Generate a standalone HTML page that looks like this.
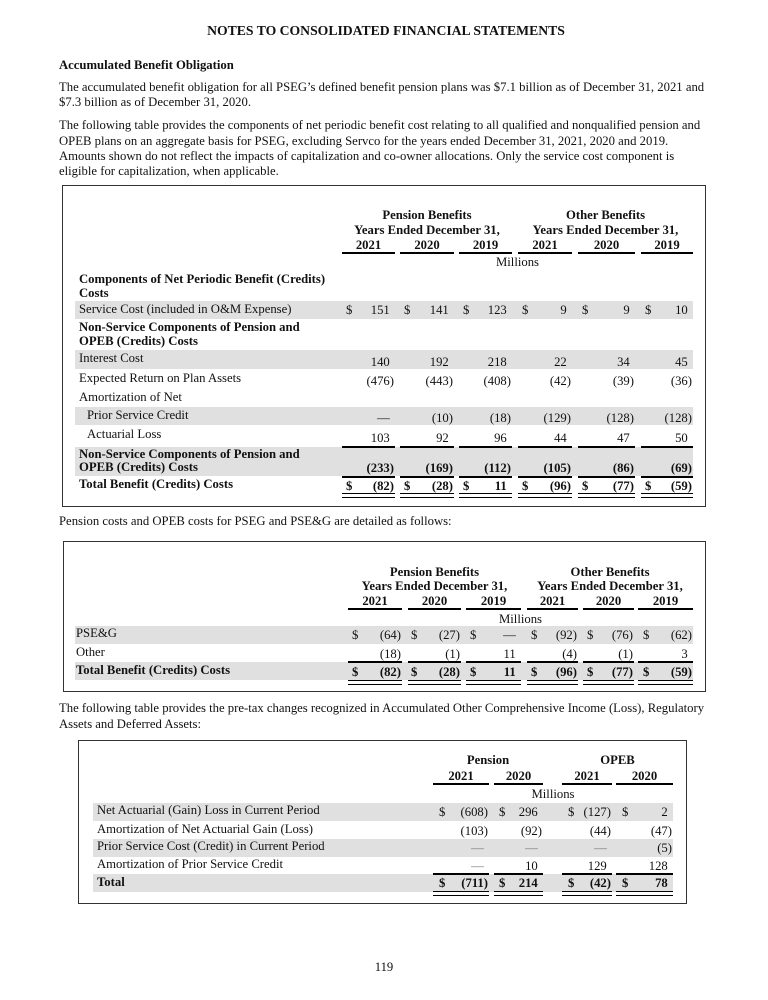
<!DOCTYPE html>
<html>
<head>
<meta charset="utf-8">
<style>
html,body{margin:0;padding:0;}
body{width:768px;height:1000px;position:relative;overflow:hidden;background:#fff;color:#111;font-family:"Liberation Serif","Times New Roman",serif;}
.t{position:absolute;white-space:nowrap;font-size:12.7px;line-height:16px;}
.t i{font-style:normal;visibility:hidden;}
.b{font-weight:bold;}
.c{text-align:center;}
.sh{position:absolute;background:#e0e0e0;}
.ul{position:absolute;height:1.5px;background:#000;}
.dul{position:absolute;height:5px;border-top:1.5px solid #000;border-bottom:1.5px solid #000;box-sizing:border-box;}
.box{position:absolute;border:1.5px solid #333;box-sizing:border-box;}
.dash{color:#777;}
</style>
</head>
<body>

<!-- Title & text -->
<div class="t b c" style="left:0;width:772px;top:23px;font-size:13.7px;">NOTES TO CONSOLIDATED FINANCIAL STATEMENTS</div>
<div class="t b" style="left:59px;top:57px;">Accumulated Benefit Obligation</div>
<div class="t" style="left:59px;top:79px;">The accumulated benefit obligation for all PSEG’s defined benefit pension plans was $7.1 billion as of December 31, 2021 and</div>
<div class="t" style="left:59px;top:94px;">$7.3 billion as of December 31, 2020.</div>
<div class="t" style="left:59px;top:117px;">The following table provides the components of net periodic benefit cost relating to all qualified and nonqualified pension and</div>
<div class="t" style="left:59px;top:133px;">OPEB plans on an aggregate basis for PSEG, excluding Servco for the years ended December 31, 2021, 2020 and 2019.</div>
<div class="t" style="left:59px;top:148px;">Amounts shown do not reflect the impacts of capitalization and co-owner allocations. Only the service cost component is</div>
<div class="t" style="left:59px;top:163px;">eligible for capitalization, when applicable.</div>

<!-- ================= TABLE 1 ================= -->
<div class="box" style="left:62px;top:185px;width:644px;height:322px;"></div>

<div class="t b c" style="left:342px;width:170px;top:207px;">Pension Benefits</div>
<div class="t b c" style="left:342px;width:170px;top:222px;">Years Ended December 31,</div>
<div class="t b c" style="left:518px;width:175px;top:207px;">Other Benefits</div>
<div class="t b c" style="left:518px;width:175px;top:222px;">Years Ended December 31,</div>

<div class="t b c" style="left:342px;width:53px;top:237px;">2021</div>
<div class="t b c" style="left:400px;width:54px;top:237px;">2020</div>
<div class="t b c" style="left:459px;width:53px;top:237px;">2019</div>
<div class="t b c" style="left:518px;width:54px;top:237px;">2021</div>
<div class="t b c" style="left:578px;width:57px;top:237px;">2020</div>
<div class="t b c" style="left:641px;width:52px;top:237px;">2019</div>

<div class="ul" style="left:342px;width:53px;top:252px;"></div>
<div class="ul" style="left:400px;width:54px;top:252px;"></div>
<div class="ul" style="left:459px;width:53px;top:252px;"></div>
<div class="ul" style="left:518px;width:54px;top:252px;"></div>
<div class="ul" style="left:578px;width:57px;top:252px;"></div>
<div class="ul" style="left:641px;width:52px;top:252px;"></div>

<div class="t c" style="left:342px;width:351px;top:254px;">Millions</div>

<div class="t b" style="left:79px;top:271px;">Components of Net Periodic Benefit (Credits)</div>
<div class="t b" style="left:79px;top:285px;">Costs</div>

<!-- Service cost -->
<div class="sh" style="left:75px;width:618px;top:301px;height:18px;"></div>
<div class="t" style="left:79px;top:301px;">Service Cost (included in O&amp;M Expense)</div>
<div class="t" style="left:346px;top:302px;">$</div>
<div class="t" style="right:374px;top:302px;">151<i>)</i></div>
<div class="t" style="left:404px;top:302px;">$</div>
<div class="t" style="right:315px;top:302px;">141<i>)</i></div>
<div class="t" style="left:463px;top:302px;">$</div>
<div class="t" style="right:257px;top:302px;">123<i>)</i></div>
<div class="t" style="left:522px;top:302px;">$</div>
<div class="t" style="right:197px;top:302px;">9<i>)</i></div>
<div class="t" style="left:582px;top:302px;">$</div>
<div class="t" style="right:134px;top:302px;">9<i>)</i></div>
<div class="t" style="left:645px;top:302px;">$</div>
<div class="t" style="right:76px;top:302px;">10<i>)</i></div>

<div class="t b" style="left:79px;top:319px;">Non-Service Components of Pension and</div>
<div class="t b" style="left:79px;top:333px;">OPEB (Credits) Costs</div>

<!-- Interest -->
<div class="sh" style="left:75px;width:618px;top:350px;height:19px;"></div>
<div class="t" style="left:79px;top:350px;">Interest Cost</div>
<div class="t" style="right:374px;top:354px;">140<i>)</i></div>
<div class="t" style="right:315px;top:354px;">192<i>)</i></div>
<div class="t" style="right:257px;top:354px;">218<i>)</i></div>
<div class="t" style="right:197px;top:354px;">22<i>)</i></div>
<div class="t" style="right:134px;top:354px;">34<i>)</i></div>
<div class="t" style="right:76px;top:354px;">45<i>)</i></div>

<!-- Expected -->
<div class="t" style="left:79px;top:370px;">Expected Return on Plan Assets</div>
<div class="t" style="right:374px;top:373px;">(476)</div>
<div class="t" style="right:315px;top:373px;">(443)</div>
<div class="t" style="right:257px;top:373px;">(408)</div>
<div class="t" style="right:197px;top:373px;">(42)</div>
<div class="t" style="right:134px;top:373px;">(39)</div>
<div class="t" style="right:76px;top:373px;">(36)</div>

<div class="t" style="left:79px;top:389px;">Amortization of Net</div>

<!-- Prior service credit -->
<div class="sh" style="left:75px;width:618px;top:407px;height:18px;"></div>
<div class="t" style="left:87px;top:407px;">Prior Service Credit</div>
<div class="t" style="right:374px;top:410px;">—<i>)</i></div>
<div class="t" style="right:315px;top:410px;">(10)</div>
<div class="t" style="right:257px;top:410px;">(18)</div>
<div class="t" style="right:197px;top:410px;">(129)</div>
<div class="t" style="right:134px;top:410px;">(128)</div>
<div class="t" style="right:76px;top:410px;">(128)</div>

<!-- Actuarial -->
<div class="t" style="left:87px;top:426px;">Actuarial Loss</div>
<div class="t" style="right:374px;top:430px;">103<i>)</i></div>
<div class="t" style="right:315px;top:430px;">92<i>)</i></div>
<div class="t" style="right:257px;top:430px;">96<i>)</i></div>
<div class="t" style="right:197px;top:430px;">44<i>)</i></div>
<div class="t" style="right:134px;top:430px;">47<i>)</i></div>
<div class="t" style="right:76px;top:430px;">50<i>)</i></div>

<!-- Non-service subtotal -->
<div class="sh" style="left:75px;width:618px;top:447px;height:29px;"></div>
<div class="ul" style="left:342px;width:53px;top:446px;"></div>
<div class="ul" style="left:400px;width:54px;top:446px;"></div>
<div class="ul" style="left:459px;width:53px;top:446px;"></div>
<div class="ul" style="left:518px;width:54px;top:446px;"></div>
<div class="ul" style="left:578px;width:57px;top:446px;"></div>
<div class="ul" style="left:641px;width:52px;top:446px;"></div>
<div class="t b" style="left:79px;top:446px;">Non-Service Components of Pension and</div>
<div class="t b" style="left:79px;top:459px;">OPEB (Credits) Costs</div>
<div class="t b" style="right:374px;top:460px;">(233)</div>
<div class="t b" style="right:315px;top:460px;">(169)</div>
<div class="t b" style="right:257px;top:460px;">(112)</div>
<div class="t b" style="right:197px;top:460px;">(105)</div>
<div class="t b" style="right:134px;top:460px;">(86)</div>
<div class="t b" style="right:76px;top:460px;">(69)</div>
<div class="ul" style="left:342px;width:53px;top:476px;"></div>
<div class="ul" style="left:400px;width:54px;top:476px;"></div>
<div class="ul" style="left:459px;width:53px;top:476px;"></div>
<div class="ul" style="left:518px;width:54px;top:476px;"></div>
<div class="ul" style="left:578px;width:57px;top:476px;"></div>
<div class="ul" style="left:641px;width:52px;top:476px;"></div>

<!-- Total -->
<div class="t b" style="left:79px;top:476px;">Total Benefit (Credits) Costs</div>
<div class="t b" style="left:346px;top:478px;">$</div>
<div class="t b" style="right:374px;top:478px;">(82)</div>
<div class="t b" style="left:404px;top:478px;">$</div>
<div class="t b" style="right:315px;top:478px;">(28)</div>
<div class="t b" style="left:463px;top:478px;">$</div>
<div class="t b" style="right:257px;top:478px;">11<i>)</i></div>
<div class="t b" style="left:522px;top:478px;">$</div>
<div class="t b" style="right:197px;top:478px;">(96)</div>
<div class="t b" style="left:582px;top:478px;">$</div>
<div class="t b" style="right:134px;top:478px;">(77)</div>
<div class="t b" style="left:645px;top:478px;">$</div>
<div class="t b" style="right:76px;top:478px;">(59)</div>
<div class="dul" style="left:342px;width:53px;top:493px;"></div>
<div class="dul" style="left:400px;width:54px;top:493px;"></div>
<div class="dul" style="left:459px;width:53px;top:493px;"></div>
<div class="dul" style="left:518px;width:54px;top:493px;"></div>
<div class="dul" style="left:578px;width:57px;top:493px;"></div>
<div class="dul" style="left:641px;width:52px;top:493px;"></div>

<!-- ================= Between ================= -->
<div class="t" style="left:59px;top:513px;">Pension costs and OPEB costs for PSEG and PSE&amp;G are detailed as follows:</div>

<!-- ================= TABLE 2 ================= -->
<div class="box" style="left:63px;top:541px;width:643px;height:151px;"></div>

<div class="t b c" style="left:348px;width:173px;top:564px;">Pension Benefits</div>
<div class="t b c" style="left:348px;width:173px;top:578px;">Years Ended December 31,</div>
<div class="t b c" style="left:527px;width:166px;top:564px;">Other Benefits</div>
<div class="t b c" style="left:527px;width:166px;top:578px;">Years Ended December 31,</div>

<div class="t b c" style="left:348px;width:54px;top:593px;">2021</div>
<div class="t b c" style="left:408px;width:53px;top:593px;">2020</div>
<div class="t b c" style="left:466px;width:55px;top:593px;">2019</div>
<div class="t b c" style="left:527px;width:51px;top:593px;">2021</div>
<div class="t b c" style="left:583px;width:51px;top:593px;">2020</div>
<div class="t b c" style="left:638px;width:55px;top:593px;">2019</div>

<div class="ul" style="left:348px;width:54px;top:608px;"></div>
<div class="ul" style="left:408px;width:53px;top:608px;"></div>
<div class="ul" style="left:466px;width:55px;top:608px;"></div>
<div class="ul" style="left:527px;width:51px;top:608px;"></div>
<div class="ul" style="left:583px;width:51px;top:608px;"></div>
<div class="ul" style="left:638px;width:55px;top:608px;"></div>

<div class="t c" style="left:348px;width:345px;top:611px;">Millions</div>

<!-- PSE&G -->
<div class="sh" style="left:75px;width:618px;top:626px;height:18px;"></div>
<div class="t" style="left:76px;top:625px;">PSE&amp;G</div>
<div class="t" style="left:352px;top:627px;">$</div>
<div class="t" style="right:367px;top:627px;">(64)</div>
<div class="t" style="left:411px;top:627px;">$</div>
<div class="t" style="right:308px;top:627px;">(27)</div>
<div class="t" style="left:470px;top:627px;">$</div>
<div class="t" style="right:248px;top:627px;">—<i>)</i></div>
<div class="t" style="left:531px;top:627px;">$</div>
<div class="t" style="right:191px;top:627px;">(92)</div>
<div class="t" style="left:587px;top:627px;">$</div>
<div class="t" style="right:135px;top:627px;">(76)</div>
<div class="t" style="left:643px;top:627px;">$</div>
<div class="t" style="right:76px;top:627px;">(62)</div>

<!-- Other -->
<div class="t" style="left:76px;top:644px;">Other</div>
<div class="t" style="right:367px;top:646px;">(18)</div>
<div class="t" style="right:308px;top:646px;">(1)</div>
<div class="t" style="right:248px;top:646px;">11<i>)</i></div>
<div class="t" style="right:191px;top:646px;">(4)</div>
<div class="t" style="right:135px;top:646px;">(1)</div>
<div class="t" style="right:76px;top:646px;">3<i>)</i></div>

<!-- Total -->
<div class="sh" style="left:75px;width:618px;top:662px;height:18px;"></div>
<div class="ul" style="left:348px;width:54px;top:661px;"></div>
<div class="ul" style="left:408px;width:53px;top:661px;"></div>
<div class="ul" style="left:466px;width:55px;top:661px;"></div>
<div class="ul" style="left:527px;width:51px;top:661px;"></div>
<div class="ul" style="left:583px;width:51px;top:661px;"></div>
<div class="ul" style="left:638px;width:55px;top:661px;"></div>
<div class="t b" style="left:76px;top:662px;">Total Benefit (Credits) Costs</div>
<div class="t b" style="left:352px;top:664px;">$</div>
<div class="t b" style="right:367px;top:664px;">(82)</div>
<div class="t b" style="left:411px;top:664px;">$</div>
<div class="t b" style="right:308px;top:664px;">(28)</div>
<div class="t b" style="left:470px;top:664px;">$</div>
<div class="t b" style="right:248px;top:664px;">11<i>)</i></div>
<div class="t b" style="left:531px;top:664px;">$</div>
<div class="t b" style="right:191px;top:664px;">(96)</div>
<div class="t b" style="left:587px;top:664px;">$</div>
<div class="t b" style="right:135px;top:664px;">(77)</div>
<div class="t b" style="left:643px;top:664px;">$</div>
<div class="t b" style="right:76px;top:664px;">(59)</div>
<div class="dul" style="left:348px;width:54px;top:680px;"></div>
<div class="dul" style="left:408px;width:53px;top:680px;"></div>
<div class="dul" style="left:466px;width:55px;top:680px;"></div>
<div class="dul" style="left:527px;width:51px;top:680px;"></div>
<div class="dul" style="left:583px;width:51px;top:680px;"></div>
<div class="dul" style="left:638px;width:55px;top:680px;"></div>

<!-- ================= Between ================= -->
<div class="t" style="left:59px;top:700px;">The following table provides the pre-tax changes recognized in Accumulated Other Comprehensive Income (Loss), Regulatory</div>
<div class="t" style="left:59px;top:716px;">Assets and Deferred Assets:</div>

<!-- ================= TABLE 3 ================= -->
<div class="box" style="left:78px;top:740px;width:609px;height:164px;"></div>

<div class="t b c" style="left:433px;width:110px;top:752px;">Pension</div>
<div class="t b c" style="left:562px;width:111px;top:752px;">OPEB</div>

<div class="t b c" style="left:433px;width:56px;top:768px;">2021</div>
<div class="t b c" style="left:494px;width:49px;top:768px;">2020</div>
<div class="t b c" style="left:562px;width:50px;top:768px;">2021</div>
<div class="t b c" style="left:616px;width:57px;top:768px;">2020</div>

<div class="ul" style="left:433px;width:56px;top:783px;"></div>
<div class="ul" style="left:494px;width:49px;top:783px;"></div>
<div class="ul" style="left:562px;width:50px;top:783px;"></div>
<div class="ul" style="left:616px;width:57px;top:783px;"></div>

<div class="t c" style="left:433px;width:240px;top:786px;">Millions</div>

<!-- Row 1 -->
<div class="sh" style="left:93px;width:580px;top:803px;height:18px;"></div>
<div class="t" style="left:97px;top:802px;">Net Actuarial (Gain) Loss in Current Period</div>
<div class="t" style="left:439px;top:804px;">$</div>
<div class="t" style="right:280px;top:804px;">(608)</div>
<div class="t" style="left:499px;top:804px;">$</div>
<div class="t" style="right:226px;top:804px;">296<i>)</i></div>
<div class="t" style="left:568px;top:804px;">$</div>
<div class="t" style="right:157px;top:804px;">(127)</div>
<div class="t" style="left:622px;top:804px;">$</div>
<div class="t" style="right:96px;top:804px;">2<i>)</i></div>

<!-- Row 2 -->
<div class="t" style="left:97px;top:821px;">Amortization of Net Actuarial Gain (Loss)</div>
<div class="t" style="right:280px;top:823px;">(103)</div>
<div class="t" style="right:226px;top:823px;">(92)</div>
<div class="t" style="right:157px;top:823px;">(44)</div>
<div class="t" style="right:96px;top:823px;">(47)</div>

<!-- Row 3 -->
<div class="sh" style="left:93px;width:580px;top:839px;height:18px;"></div>
<div class="t" style="left:97px;top:838px;">Prior Service Cost (Credit) in Current Period</div>
<div class="t dash" style="right:280px;top:840px;">—<i>)</i></div>
<div class="t dash" style="right:226px;top:840px;">—<i>)</i></div>
<div class="t dash" style="right:157px;top:840px;">—<i>)</i></div>
<div class="t" style="right:96px;top:840px;">(5)</div>

<!-- Row 4 -->
<div class="t" style="left:97px;top:856px;">Amortization of Prior Service Credit</div>
<div class="t dash" style="right:280px;top:858px;">—<i>)</i></div>
<div class="t" style="right:226px;top:858px;">10<i>)</i></div>
<div class="t" style="right:157px;top:858px;">129<i>)</i></div>
<div class="t" style="right:96px;top:858px;">128<i>)</i></div>

<!-- Total -->
<div class="sh" style="left:93px;width:580px;top:874px;height:18px;"></div>
<div class="ul" style="left:433px;width:56px;top:873px;"></div>
<div class="ul" style="left:494px;width:49px;top:873px;"></div>
<div class="ul" style="left:562px;width:50px;top:873px;"></div>
<div class="ul" style="left:616px;width:57px;top:873px;"></div>
<div class="t b" style="left:97px;top:874px;">Total</div>
<div class="t b" style="left:439px;top:875px;">$</div>
<div class="t b" style="right:280px;top:875px;">(711)</div>
<div class="t b" style="left:499px;top:875px;">$</div>
<div class="t b" style="right:226px;top:875px;">214<i>)</i></div>
<div class="t b" style="left:568px;top:875px;">$</div>
<div class="t b" style="right:157px;top:875px;">(42)</div>
<div class="t b" style="left:622px;top:875px;">$</div>
<div class="t b" style="right:96px;top:875px;">78<i>)</i></div>
<div class="dul" style="left:433px;width:56px;top:891px;"></div>
<div class="dul" style="left:494px;width:49px;top:891px;"></div>
<div class="dul" style="left:562px;width:50px;top:891px;"></div>
<div class="dul" style="left:616px;width:57px;top:891px;"></div>

<!-- Page number -->
<div class="t c" style="left:354px;width:60px;top:959px;">119</div>

</body>
</html>
